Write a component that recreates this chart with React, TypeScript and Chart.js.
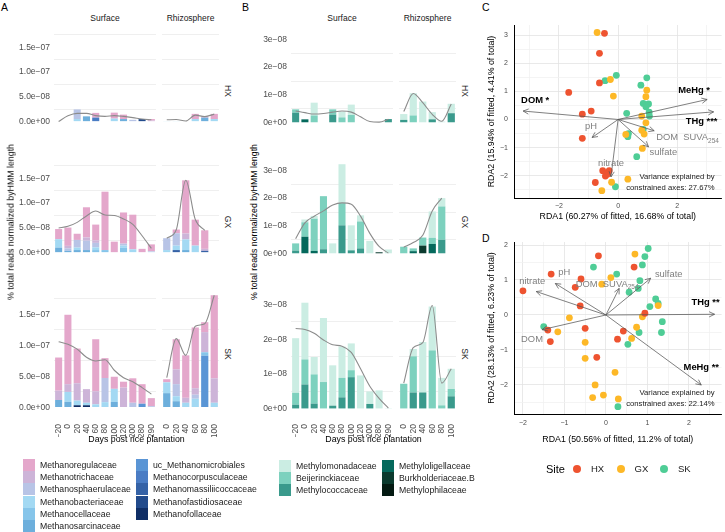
import React, { useEffect, useRef } from 'react';
import { Chart, registerables } from 'chart.js';
Chart.register(...registerables);

const FONT = '"Liberation Sans", Arial, Helvetica, sans-serif';
const MINUS = '\u2212';

// ---------- categories ----------
const surfaceDays = [MINUS + '20', '0', '20', '40', '60', '80', '100', '120', '200', '280', '290'];
const rhizoDays = ['0', '20', '40', '60', '80', '100'];
const sites = ['HX', 'GX', 'SK'];

// ---------- Panel A: methanogens (values in units of 1e-8) ----------
const methFamilies = ['Methanoregulaceae', 'Methanotrichaceae', 'Methanosphaerulaceae', 'Methanobacteriaceae', 'Methanocellaceae', 'Methanosarcinaceae', 'uc_Methanomicrobiales', 'Methanocorpusculaceae', 'Methanomassiliicoccaceae', 'Methanofastidiosaceae', 'Methanofollaceae'];
const methColors = ['#E4A7CB', '#CDB4D8', '#B8C4E6', '#A3D9F3', '#86C5EA', '#6DAFDC', '#5A95D5', '#4A7CC4', '#3562A6', '#224B8C', '#0F2E66'];

const aHXSurface: Record<string, number[]> = {
  Methanoregulaceae: [0, 0, 0, 0, 0.95, 0, 1.2, 0.9, 0, 0, 0.3],
  Methanotrichaceae: [0, 0, 0, 0, 0, 0, 0, 0, 0, 0, 0.2],
  Methanosphaerulaceae: [0, 0, 1.95, 0, 0, 0, 0, 0, 0.35, 0, 0],
  Methanobacteriaceae: [0, 0, 0.5, 0, 0, 0, 0.6, 0, 0, 0, 0],
  Methanosarcinaceae: [0, 0, 0, 1.05, 0, 0, 0, 0.5, 0, 0, 0],
  Methanocorpusculaceae: [0, 0, 0, 0, 0.8, 0, 0, 0, 0, 0, 0],
  Methanofastidiosaceae: [0, 0, 0, 0, 0, 0, 0, 0, 0, 0.5, 0],
};
const aHXSurfaceSmooth = [0, 1.15, 1.65, 1.65, 1.2, 1.05, 1.2, 1.05, 0.8, 0.5, 0.35];
const aHXRhizo: Record<string, number[]> = {
  Methanoregulaceae: [0, 0, 0, 1.05, 0.3, 1.05],
  Methanobacteriaceae: [0.1, 0.1, 0, 0.5, 0, 0.5],
  Methanosarcinaceae: [0, 0, 0, 0, 0.8, 0],
};
const aHXRhizoSmooth = [0.35, 0.4, 0.1, 1.3, 1.0, 1.5];

const aGXSurface: Record<string, number[]> = {
  Methanoregulaceae: [2.05, 3.7, 1.25, 6.1, 3.2, 11.8, 2.2, 6.3, 7.0, 0.75, 1.45],
  Methanotrichaceae: [0, 0.5, 0, 0.65, 0.5, 0, 0, 0, 0, 0, 0],
  Methanosphaerulaceae: [0, 0.5, 1.55, 1.9, 0.9, 0, 0, 0.4, 0, 0, 0],
  Methanobacteriaceae: [1.7, 0, 0.5, 0, 0.55, 0, 0, 0.4, 0.65, 0, 0.2],
  Methanocellaceae: [0, 0, 0, 0, 0.5, 0.5, 0, 1.0, 0, 0, 0],
  Methanosarcinaceae: [1.0, 0.35, 0.5, 0.5, 0, 0, 0, 0, 0, 0, 0],
};
const aGXSurfaceSmooth = [4.95, 5.3, 6.1, 7.4, 8.4, 7.6, 7.5, 6.8, 5.7, 3.4, 0.85];
const aGXRhizo: Record<string, number[]> = {
  Methanoregulaceae: [0, 0.75, 10.75, 5.25, 3.75, 0],
  Methanotrichaceae: [0, 0, 1.2, 0, 0.4, 0],
  Methanosphaerulaceae: [2.4, 2.5, 0, 0, 0, 0],
  Methanobacteriaceae: [0.5, 0.9, 2.15, 1.4, 0, 0],
  Methanosarcinaceae: [0, 0, 0.5, 0, 0, 0],
  Methanomassiliicoccaceae: [0, 0.5, 0, 0, 0.35, 0],
};
const aGXRhizoSmooth = [2.9, 4.6, 14.6, 6.7, 4.5, null];

const aSKSurface: Record<string, number[]> = {
  Methanoregulaceae: [5.35, 11.2, 5.6, 0, 8.4, 3.2, 1.95, 0.95, 3.95, 3.15, 1.3],
  Methanotrichaceae: [1.5, 1.25, 2.8, 2.2, 2.1, 0, 0, 3.2, 0, 0, 0],
  Methanosphaerulaceae: [0, 0, 0, 0, 0, 3.9, 0, 0, 0.75, 0, 0.2],
  Methanobacteriaceae: [0, 1.6, 0.75, 0.4, 0.5, 0.85, 2.1, 0, 0, 0, 0],
  Methanosarcinaceae: [1.2, 0.9, 0, 0, 0, 0, 0.9, 0, 0, 0, 0],
  uc_Methanomicrobiales: [0, 0, 0, 0, 0, 0, 0, 0, 0, 0.6, 0],
  Methanofollaceae: [0, 0, 0.35, 0.35, 0, 0, 0, 0, 0, 0, 0],
};
const aSKSurfaceSmooth = [10.6, 10.2, 9.4, 8.1, 7.5, 7.7, 6.0, 4.8, 4.15, 3.2, 2.15];
const aSKRhizo: Record<string, number[]> = {
  Methanoregulaceae: [0.5, 4.85, 6.85, 9.8, 1.6, 13.4],
  Methanotrichaceae: [0, 2.4, 0.8, 1.05, 3.25, 3.95],
  Methanosphaerulaceae: [0, 1.95, 0, 0.65, 0, 0],
  Methanobacteriaceae: [1.75, 0.8, 0.75, 1.4, 0, 0.75],
  Methanocellaceae: [0, 0, 0, 0, 0.55, 0],
  Methanosarcinaceae: [2.3, 1.0, 0, 0, 0, 0],
  uc_Methanomicrobiales: [0, 0, 0, 0, 8.35, 0],
};
const aSKRhizoSmooth = [4.8, 11.1, 8.4, 13.1, 13.5, 18.1];

// ---------- Panel B: methanotrophs (values in units of 1e-8) ----------
const mobFamilies = ['Methylomonadaceae', 'Beijerinckiaceae', 'Methylococcaceae', 'Methyloligellaceae', 'Burkholderiaceae.B', 'Methylophilaceae'];
const mobColors = ['#CBEDE3', '#7DD1BE', '#3A9A8C', '#05695C', '#0B3A2E', '#041A12'];

const bHXSurface: Record<string, number[]> = {
  Methylomonadaceae: [0, 0, 0.46, 0, 0, 0.21, 0.37, 0, 0, 0, 0],
  Beijerinckiaceae: [0.12, 0, 0.26, 0, 0.19, 0.19, 0.28, 0, 0, 0, 0],
  Methylococcaceae: [0.36, 0, 0, 0, 0.29, 0, 0, 0, 0, 0, 0.13],
  Methyloligellaceae: [0, 0.12, 0, 0, 0, 0, 0, 0, 0, 0, 0],
};
const bHXSurfaceSmooth = [0.42, 0.36, 0.31, 0.33, 0.38, 0.42, 0.38, 0.21, 0.04, 0.02, 0.12];
const bHXRhizo: Record<string, number[]> = {
  Methylomonadaceae: [0.21, 0.8, 0.76, 0.26, 0.04, 0.34],
  Beijerinckiaceae: [0, 0.26, 0, 0, 0, 0],
  Methylococcaceae: [0.1, 0, 0, 0.12, 0, 0.34],
};
const bHXRhizoSmooth = [0.4, 1.05, 0.72, 0.3, 0.05, 0.67];

const bGXSurface: Record<string, number[]> = {
  Methylomonadaceae: [0, 0.1, 0.1, 0, 0.37, 1.4, 0.9, 0.22, 0.46, 0, 0.15],
  Beijerinckiaceae: [0.26, 0.52, 1.16, 1.91, 0, 0.8, 0, 0.97, 0, 0, 0],
  Methylococcaceae: [0.11, 0, 0, 0.16, 0, 1.02, 0.12, 0.19, 0, 0, 0],
  Methyloligellaceae: [0, 0.61, 0.1, 0, 0, 0, 0, 0, 0, 0, 0],
  'Burkholderiaceae.B': [0, 0, 0, 0, 0, 0, 0, 0, 0, 0.05, 0],
};
const bGXSurfaceSmooth = [0.54, 1.11, 1.35, 1.54, 1.75, 1.83, 1.78, 1.35, 0.73, 0.26, 0.02];
const bGXRhizo: Record<string, number[]> = {
  Methylomonadaceae: [0, 0, 0, 0.95, 0.3, 0],
  Beijerinckiaceae: [0.25, 0.1, 0.29, 0.22, 1.2, 0],
  Methylococcaceae: [0, 0, 0, 0, 0.5, 0],
  Methyloligellaceae: [0, 0.09, 0, 0.35, 0, 0],
  'Burkholderiaceae.B': [0, 0, 0.29, 0, 0, 0],
};
const bGXRhizoSmooth = [0.23, 0.4, 0.66, 1.54, 2.0, null];

const bSKSurface: Record<string, number[]> = {
  Methylomonadaceae: [1.57, 1.63, 0.5, 1.84, 1.16, 0.9, 0.77, 0.96, 0.36, 0.53, 0.02],
  Beijerinckiaceae: [0.34, 0.72, 0.84, 0.77, 0, 0.56, 0.2, 0, 0, 0, 0],
  Methylococcaceae: [0.12, 0.7, 0.15, 0, 0.09, 0.33, 0.91, 0, 0.14, 0, 0],
};
const bSKSurfaceSmooth = [2.31, 2.28, 2.17, 1.98, 1.84, 1.8, 1.62, 1.15, 0.65, 0.3, 0.02];
const bSKRhizo: Record<string, number[]> = {
  Methylomonadaceae: [0, 0.21, 1.45, 1.26, 0.79, 0.58],
  Beijerinckiaceae: [0.72, 1.04, 0, 1.68, 0.1, 0.21],
  Methylococcaceae: [0, 0.47, 0.47, 0, 0, 0.36],
};
const bSKRhizoSmooth = [0.74, 1.76, 1.9, 2.97, 0.74, 1.15];

// ---------- Panel C: RDA (points and biplot arrows) ----------
const cHX = [[-0.46, 3.06], [-0.63, 2.35], [-0.63, 1.3], [-1.67, 0.96], [-0.91, 0.3], [-1.21, 0.19], [-1.21, -0.67], [-0.52, -1.82], [-0.3, -1.82], [-0.43, -2.01], [-0.35, -1.94], [-0.77, -2.24]];
const cGX = [[-0.71, 3.09], [-0.26, 1.42], [-0.16, 0.83], [0.97, 1.04], [0.94, 0.81], [0.8, 0.12], [0.94, -0.12], [0.26, -0.53], [0.8, -0.38], [0.88, -0.52], [0.82, -1.03], [0.33, -2.12], [-0.22, -2.23], [-0.55, -2.53]];
const cSK = [[-0.06, 1.57], [-0.44, 1.38], [0.97, 1.48], [0.77, 1.22], [0.85, 0.57], [1.03, 0.55], [0.94, 0.45], [1.05, 0.26], [1.06, 0.12], [0.29, 0.22], [0.85, -0.35], [0.35, -0.5], [0.33, -0.61], [0.63, -1.32], [-0.09, -2.39]];
const cArrowNames = ['DOM *', 'MeHg *', 'THg ***', 'pH', 'DOM SUVA254', 'sulfate', 'nitrate'];
const cArrowX = [-3.21, 3.01, 3.23, -0.88, 1.22, 1.03, -0.24];
const cArrowY = [0.3, 0.71, 0.27, -0.64, -0.4, -0.97, -2.04];
const cSignificant = [true, true, true, false, false, false, false];
const cVariance = 'constrained axes: 27.67%';

// ---------- Panel D ----------
const dHX = [[-0.18, 1.69], [-1.32, 1.17], [-2.0, 0.69], [-0.6, 1.03], [-0.74, 0.79], [0.68, 1.37], [-0.62, 0.26], [-1.4, -0.43], [-1.34, -0.76], [-0.5, -0.38], [0.42, -0.46], [0.28, -0.69], [-0.22, -1.21], [0.94, 0.05]];
const dGX = [[0.7, 1.74], [0.12, 1.07], [-0.1, 0.88], [-0.88, -0.08], [-1.16, -0.48], [-0.5, -0.78], [-0.5, -1.24], [0.88, -0.05], [1.26, 0.27], [0.74, -0.35], [0.62, -0.67], [0.22, -1.64], [-0.26, -2.0], [-0.32, -2.36], [-0.06, -2.29], [0.3, -2.4]];
const dSK = [[1.02, 1.9], [0.94, 1.67], [0.88, 1.43], [-0.3, 1.37], [0.26, 1.17], [0.82, 0.98], [0.56, 0.65], [0.78, 0.76], [1.2, 0.46], [1.26, 0.33], [1.06, 0.24], [1.36, -0.19], [1.34, -0.5], [0.8, -0.5], [0.53, -0.84], [-1.5, -0.33], [0.29, -2.62]];
const dArrowNames = ['THg **', 'MeHg **', 'sulfate', 'DOM SUVA254', 'nitrate', 'pH', 'DOM'];
const dArrowX = [2.62, 2.3, 1.08, 0.32, -1.68, -1.22, -1.54];
const dArrowY = [0.02, -2.0, 1.05, 0.76, 0.67, 0.9, -0.42];
const dSignificant = [true, true, false, false, false, false, false];
const dVariance = 'constrained axes: 22.14%';

const siteColors = ['#EE5330', '#FDB827', '#4FCD96'];

// label placement (pixel offsets from arrow tip, and alignment)
const cLabelStyle = [[12, -11, 'center'], [-13, -9, 'center'], [-12, 10, 'center'], [-1, -11, 'center'], [2, 7, 'left'], [1, 6, 'left'], [0, -13, 'center']];
const dLabelStyle = [[-9, -12, 'center'], [0, -18, 'center'], [18, -4, 'center'], [-12, -4, 'center'], [-4, -10, 'center'], [9, -11, 'center'], [-10, 10, 'center']];

// ---------- helpers ----------
function sci(v: number, digits: number) {
  const s = (v * 1e-8).toExponential(digits);
  const [m, e] = s.split('e');
  const sign = e[0] === '-' ? MINUS : '+';
  const d = e.replace(/[+-]/, '').padStart(2, '0');
  return `${m}e${sign}${d}`;
}

type Facet = {
  labels: string[]; stacks: Record<string, number[]>; smooth: (number | null)[];
  families: string[]; colors: string[]; yMin: number; yMax: number; major: number[]; minor: number[];
  digits: number; showY: boolean; showX: boolean; left: number; top: number; width: number; yW: number;
};

const PLOT_H = 119;
const X_H = 24;
const rowTops = [31, 162, 294];

function buildBar(canvas: HTMLCanvasElement, f: Facet) {
  const datasets: any[] = [];
  for (let i = f.families.length - 1; i >= 0; i--) {
    const vals = f.stacks[f.families[i]];
    if (!vals) continue;
    datasets.push({ type: 'bar', label: f.families[i], data: vals, backgroundColor: f.colors[i], borderWidth: 0, barPercentage: 0.76, categoryPercentage: 1, stack: 'taxa', order: 2 });
  }
  datasets.push({ type: 'line', label: 'smooth', data: f.smooth, borderColor: '#8c8c8c', borderWidth: 1.1, pointRadius: 0, fill: false, cubicInterpolationMode: 'monotone', stack: 'smooth', order: 1, spanGaps: false });
  const allTicks = [...f.major, ...f.minor].sort((a, b) => a - b);
  return new Chart(canvas, {
    type: 'bar',
    data: { labels: f.labels, datasets },
    options: {
      animation: false, responsive: false, maintainAspectRatio: false, devicePixelRatio: 1,
      layout: { padding: 0 },
      plugins: { legend: { display: false }, tooltip: { enabled: false } },
      scales: {
        x: {
          stacked: true, display: f.showX, offset: true, grid: { display: false }, border: { display: false },
          ticks: { autoSkip: false, minRotation: 90, maxRotation: 90, color: '#4d4d4d', font: { family: FONT, size: 8.5 }, padding: 3 },
          afterFit: (s: any) => { s.height = X_H; s.paddingLeft = 0; s.paddingRight = 0; },
        },
        y: {
          stacked: true, min: f.yMin, max: f.yMax, border: { display: false },
          grid: { drawTicks: false, lineWidth: 0.8, color: (c: any) => (c.tick && f.minor.includes(c.tick.value) ? '#ebebeb' : 'rgba(0,0,0,0)') },
          ticks: { display: f.showY, color: '#4d4d4d', font: { family: FONT, size: 8.5 }, padding: 4, callback: (v: any) => (f.major.includes(v) ? sci(v, f.digits) : '') },
          afterBuildTicks: (s: any) => { s.ticks = allTicks.map((v) => ({ value: v })); },
          afterFit: (s: any) => { s.width = f.showY ? f.yW : 0; s.paddingTop = 0; s.paddingBottom = 0; },
        },
      },
    } as any,
  });
}

const biplotPlugin = {
  id: 'biplot',
  afterDatasetsDraw(chart: any, _a: any, o: any) {
    const { ctx, chartArea } = chart;
    const xs = chart.scales.x, ys = chart.scales.y;
    const x0 = xs.getPixelForValue(0), y0 = ys.getPixelForValue(0);
    ctx.save();
    o.names.forEach((name: string, i: number) => {
      const x1 = xs.getPixelForValue(o.ax[i]), y1 = ys.getPixelForValue(o.ay[i]);
      ctx.strokeStyle = '#555555'; ctx.lineWidth = 0.75;
      ctx.beginPath(); ctx.moveTo(x0, y0); ctx.lineTo(x1, y1); ctx.stroke();
      const ang = Math.atan2(y1 - y0, x1 - x0), L = 6;
      ctx.beginPath();
      ctx.moveTo(x1 - L * Math.cos(ang - 0.45), y1 - L * Math.sin(ang - 0.45));
      ctx.lineTo(x1, y1);
      ctx.lineTo(x1 - L * Math.cos(ang + 0.45), y1 - L * Math.sin(ang + 0.45));
      ctx.stroke();
      const [dx, dy, align] = o.style[i];
      const bold = o.sig[i];
      ctx.fillStyle = bold ? '#000000' : '#808080';
      ctx.font = `${bold ? 'bold ' : ''}9.4px ${FONT}`;
      ctx.textBaseline = 'middle';
      let main = name, sub = '';
      if (name.endsWith('254')) { main = name.slice(0, -3).replace(' ', '  '); sub = '254'; }
      const wMain = ctx.measureText(main).width;
      ctx.font = `6.5px ${FONT}`;
      const wSub = sub ? ctx.measureText(sub).width : 0;
      const total = wMain + wSub;
      const lx = align === 'center' ? x1 + dx - total / 2 : x1 + dx;
      const ly = y1 + dy;
      ctx.font = `${bold ? 'bold ' : ''}9.4px ${FONT}`;
      ctx.textAlign = 'left';
      ctx.fillText(main, lx, ly);
      if (sub) { ctx.font = `6.5px ${FONT}`; ctx.fillText(sub, lx + wMain, ly + 3); }
    });
    ctx.fillStyle = '#1a1a1a';
    ctx.font = `7.7px ${FONT}`;
    ctx.textAlign = 'right';
    ctx.textBaseline = 'middle';
    ctx.fillText('Variance explained by', chartArea.right - 7, chartArea.bottom - 21);
    ctx.fillText(o.variance, chartArea.right - 7, chartArea.bottom - 10.5);
    ctx.restore();
  },
};

type Rda = {
  pts: number[][][]; names: string[]; ax: number[]; ay: number[]; sig: boolean[]; style: any[]; variance: string;
  xMin: number; xMax: number; yMin: number; yMax: number; xMajor: number[]; xMinor: number[]; yMajor: number[]; yMinor: number[];
  xTitle: string; yTitle: string; yW: number; xH: number; padTop: number; tickPadX: number;
};

function fmtNum(v: number) { return v < 0 ? MINUS + Math.abs(v) : String(v); }

function buildRda(canvas: HTMLCanvasElement, r: Rda) {
  const xt = [...r.xMajor, ...r.xMinor].sort((a, b) => a - b);
  const yt = [...r.yMajor, ...r.yMinor].sort((a, b) => a - b);
  const gridColor = (maj: number[]) => (c: any) => (c.tick && maj.includes(c.tick.value) ? '#e3e3e3' : '#f1f1f1');
  return new Chart(canvas, {
    type: 'scatter',
    data: {
      datasets: r.pts.map((p, i) => ({
        label: sites[i], data: p.map(([x, y]) => ({ x, y })), backgroundColor: siteColors[i], borderWidth: 0, pointRadius: 3.4, pointHoverRadius: 3.4,
      })),
    },
    options: {
      animation: false, responsive: false, maintainAspectRatio: false, devicePixelRatio: 1,
      layout: { padding: { top: r.padTop, right: 2, left: 0, bottom: 0 } },
      plugins: { legend: { display: false }, tooltip: { enabled: false }, biplot: r } as any,
      scales: {
        x: {
          type: 'linear', min: r.xMin, max: r.xMax, border: { display: true, color: '#000', width: 1 },
          grid: { drawTicks: false, color: gridColor(r.xMajor), lineWidth: 0.8 },
          ticks: { color: '#4d4d4d', font: { family: FONT, size: 7 }, padding: r.tickPadX, callback: (v: any) => (r.xMajor.includes(v) ? fmtNum(v) : '') },
          title: { display: true, text: r.xTitle, color: '#000', font: { family: FONT, size: 8.8 }, padding: { top: 0, bottom: 2 } },
          afterBuildTicks: (s: any) => { s.ticks = xt.map((v) => ({ value: v })); },
          afterFit: (s: any) => { s.height = r.xH; s.paddingLeft = 0; s.paddingRight = 0; },
        },
        y: {
          type: 'linear', min: r.yMin, max: r.yMax, border: { display: true, color: '#000', width: 1 },
          grid: { drawTicks: false, color: gridColor(r.yMajor), lineWidth: 0.8 },
          ticks: { color: '#4d4d4d', font: { family: FONT, size: 7 }, padding: 6, callback: (v: any) => (r.yMajor.includes(v) ? fmtNum(v) : '') },
          title: { display: true, text: r.yTitle, color: '#000', font: { family: FONT, size: 8.8 }, padding: { top: 2, bottom: 0 } },
          afterBuildTicks: (s: any) => { s.ticks = yt.map((v) => ({ value: v })); },
          afterFit: (s: any) => { s.width = r.yW; s.paddingTop = 0; s.paddingBottom = 0; },
        },
      },
    } as any,
    plugins: [biplotPlugin],
  });
}

function ChartCanvas({ left, top, width, height, build }: { left: number; top: number; width: number; height: number; build: (c: HTMLCanvasElement) => Chart }) {
  const ref = useRef<HTMLCanvasElement>(null);
  useEffect(() => {
    const ch = build(ref.current!);
    return () => ch.destroy();
  }, []);
  return <canvas ref={ref} width={width} height={height} style={{ position: 'absolute', left, top, width, height, display: 'block' }} />;
}

function T({ x, y, children, size = 8.5, color = '#1a1a1a', anchor = 'middle', rotate = 0, weight = 400 }: any) {
  const tx = anchor === 'middle' ? '-50%' : anchor === 'end' ? '-100%' : '0';
  return (
    <div style={{ position: 'absolute', left: x, top: y, transform: `translate(${tx},-50%) rotate(${rotate}deg)`, fontSize: size, color, fontFamily: FONT, whiteSpace: 'nowrap', lineHeight: 1, fontWeight: weight }}>
      {children}
    </div>
  );
}

// ---------- facet assembly ----------
const aRows = [
  [aHXSurface, aHXSurfaceSmooth, aHXRhizo, aHXRhizoSmooth],
  [aGXSurface, aGXSurfaceSmooth, aGXRhizo, aGXRhizoSmooth],
  [aSKSurface, aSKSurfaceSmooth, aSKRhizo, aSKRhizoSmooth],
] as any[];
const bRows = [
  [bHXSurface, bHXSurfaceSmooth, bHXRhizo, bHXRhizoSmooth],
  [bGXSurface, bGXSurfaceSmooth, bGXRhizo, bGXRhizoSmooth],
  [bSKSurface, bSKSurfaceSmooth, bSKRhizo, bSKRhizoSmooth],
] as any[];

function facetsFor(rows: any[], fam: string[], col: string[], geo: any, scale: any): Facet[] {
  const out: Facet[] = [];
  rows.forEach((r, i) => {
    const last = i === rows.length - 1;
    out.push({ labels: surfaceDays, stacks: r[0], smooth: r[1], families: fam, colors: col, ...scale, showY: true, showX: last, left: geo.sL, top: rowTops[i], width: geo.sW, yW: geo.yW });
    out.push({ labels: rhizoDays, stacks: r[2], smooth: r[3], families: fam, colors: col, ...scale, showY: false, showX: last, left: geo.rL, top: rowTops[i], width: geo.rW, yW: 0 });
  });
  return out;
}

const aFacets = facetsFor(aRows, methFamilies, methColors, { sL: 14, sW: 142, yW: 40, rL: 162, rW: 57 }, { yMin: -0.9, yMax: 18.3, major: [0, 5, 10, 15], minor: [2.5, 7.5, 12.5, 17.5], digits: 1 });
const bFacets = facetsFor(bRows, mobFamilies, mobColors, { sL: 262, sW: 131, yW: 29, rL: 399, rW: 57 }, { yMin: -0.12, yMax: 3.3, major: [0, 1, 2, 3], minor: [0.5, 1.5, 2.5], digits: 0 });

const cRda: Rda = {
  pts: [cHX, cGX, cSK], names: cArrowNames, ax: cArrowX, ay: cArrowY, sig: cSignificant, style: cLabelStyle, variance: cVariance,
  xMin: -3.52, xMax: 3.5, yMin: -2.79, yMax: 3.357, xMajor: [-2, 0, 2], xMinor: [-3, -1, 1, 3], yMajor: [-2, -1, 0, 1, 2, 3], yMinor: [-2.5, -1.5, -0.5, 0.5, 1.5, 2.5],
  xTitle: 'RDA1 (60.27% of fitted, 16.68% of total)', yTitle: 'RDA2 (15.94% of fitted, 4.41% of total)', yW: 30, xH: 26, padTop: 7, tickPadX: 4,
};
const dRda: Rda = {
  pts: [dHX, dGX, dSK], names: dArrowNames, ax: dArrowX, ay: dArrowY, sig: dSignificant, style: dLabelStyle, variance: dVariance,
  xMin: -2.216, xMax: 2.79, yMin: -2.83, yMax: 2.086, xMajor: [-2, -1, 0, 1, 2], xMinor: [-1.5, -0.5, 0.5, 1.5, 2.5], yMajor: [-2, -1, 0, 1, 2], yMinor: [-2.5, -1.5, -0.5, 0.5, 1.5],
  xTitle: 'RDA1 (50.56% of fitted, 11.2% of total)', yTitle: 'RDA2 (28.13% of fitted, 6.23% of total)', yW: 30, xH: 33, padTop: 6, tickPadX: 5,
};

function Legend({ families, colors, perCol, x1, x2, y0 }: any) {
  return (
    <>
      {families.map((f: string, i: number) => {
        const col = Math.floor(i / perCol), row = i % perCol;
        const sx = col === 0 ? x1 : x2;
        const cy = y0 + row * 12.2;
        return (
          <React.Fragment key={f}>
            <div style={{ position: 'absolute', left: sx, top: cy - 6, width: 12, height: 12, background: colors[i] }} />
            <T x={sx + 17} y={cy} anchor="start" size={8.7} color="#1a1a1a">{f}</T>
          </React.Fragment>
        );
      })}
    </>
  );
}

export default function App() {
  return (
    <div style={{ position: 'absolute', left: 0, top: 0, width: 725, height: 532, overflow: 'hidden', background: '#fff', fontFamily: FONT }}>
      {/* Panel letters */}
      <T x={1} y={7} anchor="start" size={10.5} color="#000">A</T>
      <T x={242} y={7} anchor="start" size={10.5} color="#000">B</T>
      <T x={482} y={7} anchor="start" size={10.5} color="#000">C</T>
      <T x={482} y={238} anchor="start" size={10.5} color="#000">D</T>

      {/* Panel A */}
      {aFacets.map((f, i) => (
        <ChartCanvas key={'a' + i} left={f.left} top={f.top} width={f.width} height={PLOT_H + (f.showX ? X_H : 0)} build={(c) => buildBar(c, f)} />
      ))}
      <T x={105} y={17.5}>Surface</T>
      <T x={190.5} y={17.5}>Rhizosphere</T>
      {sites.map((s, i) => <T key={'ar' + s} x={228} y={rowTops[i] + PLOT_H / 2} rotate={90}>{s}</T>)}
      <T x={11} y={222} rotate={-90} size={8.8} color="#000">% total reads normalized byHMM length</T>
      <T x={136.5} y={439} size={8.8} color="#000">Days post rice plantation</T>
      <Legend families={methFamilies} colors={methColors} perCol={6} x1={23} x2={136} y0={465} />

      {/* Panel B */}
      {bFacets.map((f, i) => (
        <ChartCanvas key={'b' + i} left={f.left} top={f.top} width={f.width} height={PLOT_H + (f.showX ? X_H : 0)} build={(c) => buildBar(c, f)} />
      ))}
      <T x={342} y={17.5}>Surface</T>
      <T x={427.5} y={17.5}>Rhizosphere</T>
      {sites.map((s, i) => <T key={'br' + s} x={465} y={rowTops[i] + PLOT_H / 2} rotate={90}>{s}</T>)}
      <T x={254} y={222} rotate={-90} size={8.8} color="#000">% total reads normalized byHMM length</T>
      <T x={373.5} y={439} size={8.8} color="#000">Days post rice plantation</T>
      <Legend families={mobFamilies} colors={mobColors} perCol={3} x1={279} x2={382} y0={466} />

      {/* Panels C and D */}
      <ChartCanvas left={484} top={18} width={241} height={206} build={(c) => buildRda(c, cRda)} />
      <ChartCanvas left={484} top={236} width={241} height={211} build={(c) => buildRda(c, dRda)} />

      {/* Site legend */}
      <T x={546} y={469} anchor="start" size={11} color="#000">Site</T>
      {sites.map((s, i) => (
        <React.Fragment key={'leg' + s}>
          <div style={{ position: 'absolute', left: 577 + i * 43.5 - 4, top: 469 - 4, width: 8, height: 8, borderRadius: 4, background: siteColors[i] }} />
          <T x={591 + i * 43.5} y={469} anchor="start" size={9.5} color="#1a1a1a">{s}</T>
        </React.Fragment>
      ))}
    </div>
  );
}
